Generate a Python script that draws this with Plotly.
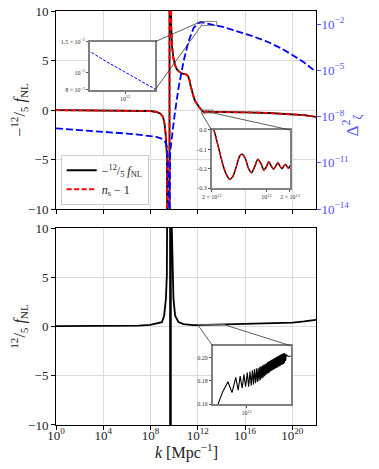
import plotly.graph_objects as go

# --------------------------------------------------
# DATA (x values are log10 k)
# --------------------------------------------------

# -12/5 f_NL, top panel (n_s - 1 sits right on top of it)
top_pts = [
    (0, -0.02), (2, -0.03), (4, -0.04), (6, -0.05), (7, -0.06), (7.5, -0.08),
    (8.0, -0.1), (8.5, -0.2), (8.81, -0.35), (9.0, -0.6), (9.1, -0.9),
    (9.2, -1.5), (9.29, -2.6), (9.38, -4.5), (9.46, -7.5), (9.52, -11),
    (9.56, -40), (9.6, -1000), (9.61, 1000), (9.68, 30), (9.72, 11),
    (9.75, 8.4), (9.83, 6.3), (9.94, 5.2), (10.08, 4.5), (10.23, 4.1),
    (10.45, 3.85), (10.65, 3.7), (10.9, 3.62), (11.08, 3.55), (11.2, 3.35),
    (11.3, 3.0), (11.4, 2.4), (11.5, 1.9), (11.65, 1.3), (11.78, 0.88),
    (11.92, 0.6), (12.06, 0.37), (12.18, 0.18), (12.33, 0.0), (12.38, -0.077),
    (12.445, -0.18), (12.49, -0.23), (12.53, -0.254), (12.57, -0.24),
    (12.615, -0.189), (12.66, -0.132), (12.69, -0.125), (12.73, -0.146),
    (12.77, -0.197), (12.81, -0.22), (12.85, -0.189), (12.89, -0.151),
    (12.935, -0.177), (12.965, -0.206), (13.0, -0.189), (13.03, -0.163),
    (13.06, -0.184), (13.09, -0.202), (13.12, -0.184), (13.148, -0.168),
    (13.17, -0.185), (13.2, -0.199), (13.225, -0.184), (13.246, -0.177),
    (13.267, -0.19), (13.284, -0.197), (13.305, -0.184), (13.45, -0.19),
    (13.7, -0.2), (14, -0.2), (16, -0.24), (18, -0.3), (20, -0.4),
    (21, -0.52), (22, -0.7),
]
ns_pts = list(top_pts)

# power spectrum Delta^2_zeta
pz_pts = [
    (0, 1.7e-9), (2, 1.35e-9), (4, 1.07e-9), (6, 7.9e-10), (7.5, 6.0e-10),
    (8.5, 4.8e-10), (9.0, 3.5e-10), (9.2, 2.5e-10), (9.3, 1.8e-10),
    (9.38, 1.0e-10), (9.45, 2.5e-11), (9.52, 1.6e-12), (9.56, 6e-14),
    (9.6, 1e-16), (9.63, 3e-14), (9.66, 5e-11), (10.0, 7.9e-9),
    (10.36, 6.8e-7), (10.79, 3.7e-5), (11.21, 7.4e-4), (11.64, 5.5e-3),
    (12.0, 1.12e-2), (12.2, 1.30e-2), (12.3, 1.32e-2), (12.6, 1.17e-2),
    (13.0, 1.01e-2), (13.3, 9.06e-3), (13.6, 8.1e-3), (14.2, 6.3e-3),
    (15.0, 4.0e-3), (16.5, 1.8e-3), (17.9, 7.1e-4), (19.0, 2.8e-4),
    (20.0, 1.0e-4), (21.0, 3.2e-5), (22.0, 7.9e-6),
]

# 12/5 f_NL, bottom panel
bot_pts = [
    (0, 0.04), (2, 0.04), (4, 0.05), (6, 0.07), (7, 0.1), (7.97, 0.17),
    (8.5, 0.28), (8.96, 0.44), (9.15, 1.1), (9.3, 2.8), (9.38, 5.2),
    (9.43, 8.2), (9.47, 12), (9.52, 40), (9.65, 1000), (9.655, -1000),
    (9.66, 1000), (9.72, 40), (9.8, 10), (9.84, 8.2), (9.89, 5.2),
    (9.94, 2.8), (10.08, 1.1), (10.36, 0.45), (10.79, 0.25), (11.2, 0.17),
    (11.6, 0.15), (11.9, 0.148), (12.05, 0.152), (12.156, 0.16),
    (12.30, 0.171), (12.45, 0.1793), (12.57, 0.170), (12.68, 0.183),
    (12.75, 0.172), (12.81, 0.184), (12.87, 0.1737), (12.92, 0.1856),
    (12.97, 0.175), (13.02, 0.187), (13.06, 0.175), (13.10, 0.188),
    (13.135, 0.176), (13.17, 0.189), (13.20, 0.177), (13.23, 0.190),
    (13.26, 0.178), (13.29, 0.1905), (13.315, 0.179), (13.34, 0.191),
    (13.365, 0.180), (13.39, 0.192), (13.41, 0.181), (13.43, 0.1925),
    (13.45, 0.182), (13.47, 0.193), (13.49, 0.183), (13.51, 0.194),
    (13.53, 0.184), (13.55, 0.1945), (13.57, 0.185), (13.59, 0.195),
    (13.605, 0.186), (13.62, 0.196), (13.635, 0.1865), (13.65, 0.1965),
    (13.665, 0.187), (13.68, 0.197), (13.695, 0.188), (13.71, 0.1975),
    (13.725, 0.1885), (13.74, 0.198), (13.755, 0.189), (13.77, 0.1985),
    (13.785, 0.1895), (13.80, 0.199), (13.815, 0.190), (13.83, 0.1995),
    (13.845, 0.1905), (13.86, 0.200), (13.875, 0.191), (13.89, 0.2005),
    (13.905, 0.1915), (13.92, 0.201), (13.935, 0.192), (13.95, 0.2015),
    (13.965, 0.1925), (13.98, 0.202), (13.995, 0.193), (14.01, 0.2025),
    (14.025, 0.1935), (14.04, 0.203), (14.055, 0.194), (14.07, 0.2033),
    (14.085, 0.1945), (14.10, 0.2035), (14.115, 0.195), (14.13, 0.2035),
    (14.15, 0.197), (14.17, 0.2025), (14.22, 0.201), (14.30, 0.201),
    (15, 0.21), (16, 0.23), (18, 0.28), (20, 0.4), (21, 0.52), (22, 0.68),
]

x_ticks = [1e0, 1e4, 1e8, 1e12, 1e16, 1e20]
x_ticktext = ["10<sup>0</sup>", "10<sup>4</sup>", "10<sup>8</sup>",
              "10<sup>12</sup>", "10<sup>16</sup>", "10<sup>20</sup>"]
f_ticks = [-10, -5, 0, 5, 10]
pz_ticks = [1e-2, 1e-5, 1e-8, 1e-11, 1e-14]
pz_ticktext = ["10<sup>−2</sup>", "10<sup>−5</sup>", "10<sup>−8</sup>",
               "10<sup>−11</sup>", "10<sup>−14</sup>"]

in1_yticks = [1.5e-2, 1e-2, 8e-3]
in1_yticktext = ["1.5 × 10<sup>−2</sup>", "10<sup>−2</sup>", "8 × 10<sup>−3</sup>"]
in2_xticks = [2e12, 1e13, 2e13]
in2_xticktext = ["2 × 10<sup>12</sup>", "10<sup>13</sup>", "2 × 10<sup>13</sup>"]
in2_yticks = [0.0, -0.1, -0.2, -0.3]
in3_yticks = [0.16, 0.18, 0.20]


def unzip(pts):
    return [10.0 ** p[0] for p in pts], [p[1] for p in pts]


k_top, f_top = unzip(top_pts)
k_ns, f_ns = unzip(ns_pts)
k_pz, v_pz = unzip(pz_pts)
k_bot, f_bot = unzip(bot_pts)

# --------------------------------------------------
# GEOMETRY
# --------------------------------------------------

FONT = "Liberation Serif, DejaVu Serif, serif"
BLUE_TXT = "#5050ff"
XR = [0, 22]
PZR = [-14, -1.15]
TOP = [0.5217, 1.0]
BOT = [0.0, 0.4758]

IN1_X, IN1_Y = [12.3, 13.6], [-2.0969, -1.8239]
IN2_X, IN2_Y = [12.301, 13.301], [-0.3, 0.0]
IN3_X, IN3_Y = [12.0, 14.3], [0.16, 0.21]
IN1_DX, IN1_DY = [0.1308, 0.3808], [0.8092, 0.9258]
IN2_DX, IN2_DY = [0.5988, 0.9], [0.5717, 0.7126]
IN3_DX, IN3_DY = [0.6027, 0.9027], [0.05, 0.1915]


def xp(lk):
    return (lk - XR[0]) / (XR[1] - XR[0])


def yp(v, dom, r):
    return dom[0] + (v - r[0]) / (r[1] - r[0]) * (dom[1] - dom[0])


fig = go.Figure()

# main traces
fig.add_trace(go.Scatter(x=k_top, y=f_top, mode="lines", xaxis="x", yaxis="y",
                         line=dict(color="black", width=1.8),
                         name="−<sup>12</sup>/<sub>5</sub> <i>f</i><sub>NL</sub>"))
fig.add_trace(go.Scatter(x=k_ns, y=f_ns, mode="lines", xaxis="x", yaxis="y",
                         line=dict(color="#ff0000", width=1.8, dash="5px,2.5px"),
                         name="<i>n</i><sub>s</sub> − 1"))
fig.add_trace(go.Scatter(x=k_pz, y=v_pz, mode="lines", xaxis="x", yaxis="y2",
                         line=dict(color="#0000ff", width=1.8, dash="7px,3px"),
                         showlegend=False))
fig.add_trace(go.Scatter(x=k_bot, y=f_bot, mode="lines", xaxis="x2", yaxis="y3",
                         line=dict(color="black", width=1.8), showlegend=False))

# inset traces
fig.add_trace(go.Scatter(x=k_pz, y=v_pz, mode="lines", xaxis="x3", yaxis="y4",
                         line=dict(color="#0000ff", width=1, dash="3px,1.5px"),
                         showlegend=False))
fig.add_trace(go.Scatter(x=k_top, y=f_top, mode="lines", xaxis="x4", yaxis="y5",
                         line=dict(color="black", width=1.5, shape="spline", smoothing=0.6),
                         showlegend=False))
fig.add_trace(go.Scatter(x=k_ns, y=f_ns, mode="lines", xaxis="x4", yaxis="y5",
                         line=dict(color="#ff0000", width=1.2, shape="spline", smoothing=0.6,
                                   dash="4px,1.5px"),
                         showlegend=False))
fig.add_trace(go.Scatter(x=k_bot, y=f_bot, mode="lines", xaxis="x5", yaxis="y6",
                         line=dict(color="black", width=1.1), showlegend=False))

# --------------------------------------------------
# AXES
# --------------------------------------------------

grid = "#dcdcdc"
main_x = dict(type="log", range=XR, tickvals=x_ticks, ticktext=x_ticktext,
              showgrid=True, gridcolor=grid, gridwidth=1, ticks="outside",
              ticklen=4, tickcolor="black", showline=True, linecolor="black",
              linewidth=1, mirror=True, zeroline=False, automargin=False,
              tickfont=dict(family=FONT, size=13, color="#222"))
main_y = dict(range=[-10, 10], tickvals=f_ticks, showgrid=True, gridcolor=grid,
              gridwidth=1, ticks="outside", ticklen=4, tickcolor="black",
              showline=True, linecolor="black", linewidth=1, mirror=True,
              zeroline=False, automargin=False, ticklabeloverflow="allow",
              tickfont=dict(family=FONT, size=13, color="#222"))


def inset_ax(**kw):
    d = dict(showgrid=False, zeroline=False, showline=True, mirror=True,
             linecolor="#808080", linewidth=1.5, ticks="outside", ticklen=2,
             tickcolor="#555", automargin=False,
             tickfont=dict(family=FONT, size=6, color="#333"))
    d.update(kw)
    return d


# the page puts the figure 8px in from the top-left corner, so the figure
# is made 8px smaller and its margins trimmed to keep the plot areas in place
fig.update_layout(
    width=371, height=461,
    margin=dict(l=48, r=63, t=3, b=44),
    paper_bgcolor="white", plot_bgcolor="white",
    font=dict(family=FONT, color="#222"),
    xaxis=dict(main_x, domain=[0, 1], anchor="y", showticklabels=False),
    yaxis=dict(main_y, domain=TOP, anchor="x",
               title=dict(text="−<sup>12</sup>/<sub>5</sub> <i>f</i><sub>NL</sub>",
                          font=dict(family=FONT, size=16), standoff=6)),
    yaxis2=dict(type="log", range=PZR, overlaying="y", side="right", anchor="x",
                tickvals=pz_ticks, ticktext=pz_ticktext, showgrid=False,
                zeroline=False, ticks="outside", ticklen=4, tickcolor=BLUE_TXT,
                automargin=False, ticklabelstandoff=-2, ticklabeloverflow="allow",
                tickfont=dict(family=FONT, size=13, color=BLUE_TXT)),
    xaxis2=dict(main_x, domain=[0, 1], anchor="y3", ticklabelstandoff=-6),
    yaxis3=dict(main_y, domain=BOT, anchor="x2",
                title=dict(text="<sup>12</sup>/<sub>5</sub> <i>f</i><sub>NL</sub>",
                           font=dict(family=FONT, size=16), standoff=6)),
    xaxis3=inset_ax(type="log", range=IN1_X, domain=IN1_DX, anchor="y4",
                    tickvals=[1e13], ticktext=["10<sup>13</sup>"]),
    yaxis4=inset_ax(type="log", range=IN1_Y, domain=IN1_DY, anchor="x3",
                    tickvals=in1_yticks, ticktext=in1_yticktext),
    xaxis4=inset_ax(type="log", range=IN2_X, domain=IN2_DX, anchor="y5",
                    tickvals=in2_xticks, ticktext=in2_xticktext),
    yaxis5=inset_ax(range=IN2_Y, domain=IN2_DY, anchor="x4",
                    tickvals=in2_yticks, tickformat=".1f"),
    xaxis5=inset_ax(type="log", range=IN3_X, domain=IN3_DX, anchor="y6",
                    tickvals=[1e13], ticktext=["10<sup>13</sup>"]),
    yaxis6=inset_ax(range=IN3_Y, domain=IN3_DY, anchor="x5",
                    tickvals=in3_yticks, tickformat=".2f"),
    legend=dict(x=0.018, y=0.532, xanchor="left", yanchor="bottom",
                bgcolor="rgba(255,255,255,0.85)", bordercolor="#cccccc",
                borderwidth=1, font=dict(family=FONT, size=12), tracegroupgap=2),
)

# axis titles that need a fixed spot
fig.add_annotation(text="Δ<sup>2</sup><sub>ζ</sub>", xref="paper", yref="paper",
                   x=1.192, y=0.756, textangle=-90, showarrow=False,
                   font=dict(family=FONT, size=17, color=BLUE_TXT))
fig.add_annotation(text="<i>k</i> [Mpc<sup>−1</sup>]", xref="paper", yref="paper",
                   x=0.5, y=-0.063, yanchor="middle", showarrow=False,
                   font=dict(family=FONT, size=16, color="#222"))

# --------------------------------------------------
# INSET MARKERS AND CONNECTORS
# --------------------------------------------------

r1 = [xp(IN1_X[0]), xp(IN1_X[1]), yp(IN1_Y[0], TOP, PZR), yp(IN1_Y[1], TOP, PZR)]
r2 = [xp(IN2_X[0]), xp(IN2_X[1]), yp(IN2_Y[0], TOP, [-10, 10]), yp(IN2_Y[1], TOP, [-10, 10])]
r3 = [xp(IN3_X[0]), xp(IN3_X[1]), yp(IN3_Y[0], BOT, [-10, 10]), yp(IN3_Y[1], BOT, [-10, 10])]

for r in (r1, r2, r3):
    fig.add_shape(type="rect", xref="paper", yref="paper", x0=r[0], x1=r[1],
                  y0=r[2], y1=r[3], line=dict(color="#666", width=0.8))

conn = [
    (IN1_DX[1], IN1_DY[1], r1[0], r1[3]),
    (IN1_DX[1], IN1_DY[0], r1[0], r1[2]),
    (IN2_DX[0], IN2_DY[1], r2[0], r2[2]),
    (IN2_DX[1], IN2_DY[1], r2[1], r2[2]),
    (IN3_DX[0], IN3_DY[1], r3[0], r3[2]),
    (IN3_DX[1], IN3_DY[1], r3[1], r3[2]),
]
for c in conn:
    fig.add_shape(type="line", xref="paper", yref="paper", x0=c[0], y0=c[1],
                  x1=c[2], y1=c[3], line=dict(color="#333", width=0.8))

fig.write_html("out.html")
